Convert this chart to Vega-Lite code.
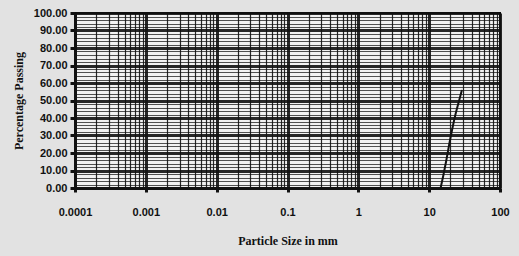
{
  "$schema": "https://vega.github.io/schema/vega-lite/v6.json",
  "width": 425,
  "height": 175,
  "autosize": "none",
  "padding": {"left": 75, "top": 13, "right": 19, "bottom": 68},
  "background": "#e2e2e2",
  "view": {"fill": "#f2f2f2", "stroke": "#000", "strokeWidth": 2},
  "data": {"values": [
    {"size": 14.5, "pass": 0},
    {"size": 16, "pass": 8},
    {"size": 17.5, "pass": 16},
    {"size": 19, "pass": 24},
    {"size": 21, "pass": 33},
    {"size": 23.5, "pass": 42},
    {"size": 26.5, "pass": 50},
    {"size": 29, "pass": 56}
  ]},
  "mark": {"type": "line", "color": "#111", "strokeWidth": 2, "interpolate": "monotone"},
  "encoding": {
    "x": {
      "field": "size", "type": "quantitative",
      "scale": {"type": "log", "domain": [0.0001, 100]},
      "axis": {
        "title": "Particle Size in mm",
        "titleFont": "Liberation Serif", "titleFontSize": 12, "titleFontWeight": "bold", "titleColor": "#111", "titlePadding": 18,
        "labelFont": "Liberation Sans", "labelFontSize": 11, "labelFontWeight": "bold", "labelColor": "#111", "labelPadding": 14,
        "labelFlush": false,
        "values": [0.0001,0.0002,0.0003,0.0004,0.0005,0.0006,0.0007,0.0008,0.0009,
                   0.001,0.002,0.003,0.004,0.005,0.006,0.007,0.008,0.009,
                   0.01,0.02,0.03,0.04,0.05,0.06,0.07,0.08,0.09,
                   0.1,0.2,0.3,0.4,0.5,0.6,0.7,0.8,0.9,
                   1,2,3,4,5,6,7,8,9,
                   10,20,30,40,50,60,70,80,90,100],
        "labelExpr": "indexof([0.0001,0.001,0.01,0.1,1,10,100], datum.value) >= 0 ? toString(datum.value) : ''",
        "grid": true,
        "gridColor": "#111",
        "gridOpacity": 0.9,
        "gridWidth": {"condition": {"test": "indexof([0.0001,0.001,0.01,0.1,1,10,100], datum.value) >= 0", "value": 3}, "value": 1.2},
        "ticks": true, "tickColor": "#111", "tickSize": 4,
        "tickWidth": {"condition": {"test": "indexof([0.0001,0.001,0.01,0.1,1,10,100], datum.value) >= 0", "value": 3}, "value": 0},
        "domainColor": "#111", "domainWidth": 3,
        "labelOverlap": false
      }
    },
    "y": {
      "field": "pass", "type": "quantitative",
      "scale": {"domain": [0, 100], "nice": false},
      "axis": {
        "title": "Percentage Passing",
        "titleFont": "Liberation Serif", "titleFontSize": 12, "titleFontWeight": "bold", "titleColor": "#111", "titlePadding": 8,
        "labelFont": "Liberation Sans", "labelFontSize": 11, "labelFontWeight": "bold", "labelColor": "#111", "labelPadding": 3,
        "values": [0,2,4,6,8,10,12,14,16,18,20,22,24,26,28,30,32,34,36,38,40,42,44,46,48,50,52,54,56,58,60,62,64,66,68,70,72,74,76,78,80,82,84,86,88,90,92,94,96,98,100],
        "labelExpr": "datum.value % 10 == 0 ? format(datum.value, '.2f') : ''",
        "grid": true,
        "gridColor": "#111",
        "gridOpacity": 0.9,
        "gridWidth": {"condition": {"test": "datum.value % 10 == 0", "value": 3}, "value": 0.8},
        "ticks": true, "tickColor": "#111", "tickSize": 5,
        "tickWidth": {"condition": {"test": "datum.value % 10 == 0", "value": 3}, "value": 0},
        "domainColor": "#111", "domainWidth": 3,
        "labelOverlap": false
      }
    }
  }
}
